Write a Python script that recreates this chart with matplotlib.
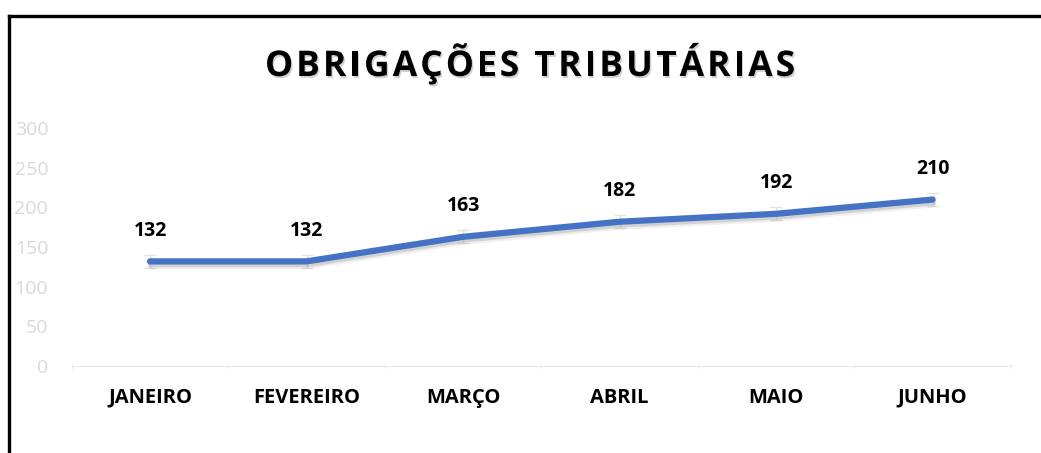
import numpy as np
import matplotlib.pyplot as plt
import matplotlib.patheffects as pe
from matplotlib.lines import Line2D

# Data
titulo = 'OBRIGAÇÕES TRIBUTÁRIAS'
meses = ['JANEIRO', 'FEVEREIRO', 'MARÇO', 'ABRIL', 'MAIO', 'JUNHO']
valores = [132, 132, 163, 182, 192, 210]
erro = [8, 8, 8, 8, 8, 8]

plt.rcParams['font.family'] = ['Open Sans', 'DejaVu Sans']

fig = plt.figure(figsize=(10.41, 4.53), dpi=100)
ax = fig.add_axes([0.069, 0.192, 0.902, 0.525])

x = np.arange(len(meses))

# light error bars behind the line
ax.errorbar(x, valores, yerr=erro, fmt='none', ecolor='#E3E3E3',
            elinewidth=1, capsize=4, capthick=1, zorder=2)

ax.plot(x, valores, color='#4472C4', linewidth=4.5, solid_capstyle='round',
        solid_joinstyle='round', zorder=3,
        path_effects=[pe.SimpleLineShadow(offset=(0.5, -2), shadow_color='black', alpha=0.12),
                      pe.SimpleLineShadow(offset=(0.5, -3.5), shadow_color='black', alpha=0.06),
                      pe.Normal()])

for xi, v in zip(x, valores):
    ax.annotate(str(v), (xi, v), xytext=(0, 22), textcoords='offset points',
                ha='center', va='center', fontsize=14, fontweight='bold', color='black')

ax.set_xlim(-0.5, len(meses) - 0.5)
ax.set_ylim(0, 300)
ax.set_yticks(range(0, 301, 50))
ax.set_xticks(x)
ax.set_xticklabels(meses, fontsize=14.5, fontweight='bold')
ax.set_xticks(np.arange(-0.5, len(meses)), minor=True)

ax.tick_params(axis='y', length=0, labelsize=14, labelcolor='#D9D9D9', pad=17)
ax.tick_params(axis='x', which='major', length=0, pad=15.5)
ax.tick_params(axis='x', which='minor', length=4, color='#EEEEEE', direction='inout')

for s in ['top', 'right', 'left']:
    ax.spines[s].set_visible(False)
ax.spines['bottom'].set_color('#E6E6E6')

# title with letter spacing, drawn char by char
renderer = fig.canvas.get_renderer()
tam = 25.5
larguras = []
for c in titulo:
    if c == ' ':
        larguras.append(tam * 0.26 * 100 / 72)
        continue
    t = fig.text(0, 0, c, fontsize=tam, fontweight='bold')
    larguras.append(t.get_window_extent(renderer).width)
    t.remove()
x0, total = 265, 530
esp = (total - sum(larguras)) / (len(titulo) - 1)
W, H = fig.get_size_inches() * fig.dpi
pos = x0
for c, w in zip(titulo, larguras):
    if c != ' ':
        fig.text(pos / W, 1 - 76 / H, c, fontsize=tam, fontweight='bold', color='black',
                 ha='left', va='baseline',
                 path_effects=[pe.SimplePatchShadow(offset=(1, -1.5), alpha=0.18), pe.Normal()])
    pos += w + esp

# frame lines on top and left
fig.add_artist(Line2D([0.0086, 1.0], [0.9636, 0.9636], color='black', linewidth=2.4,
                      transform=fig.transFigure))
fig.add_artist(Line2D([0.0086, 0.0086], [0.0, 0.9636], color='black', linewidth=2.4,
                      transform=fig.transFigure))

fig.savefig('out.png', dpi=100)
